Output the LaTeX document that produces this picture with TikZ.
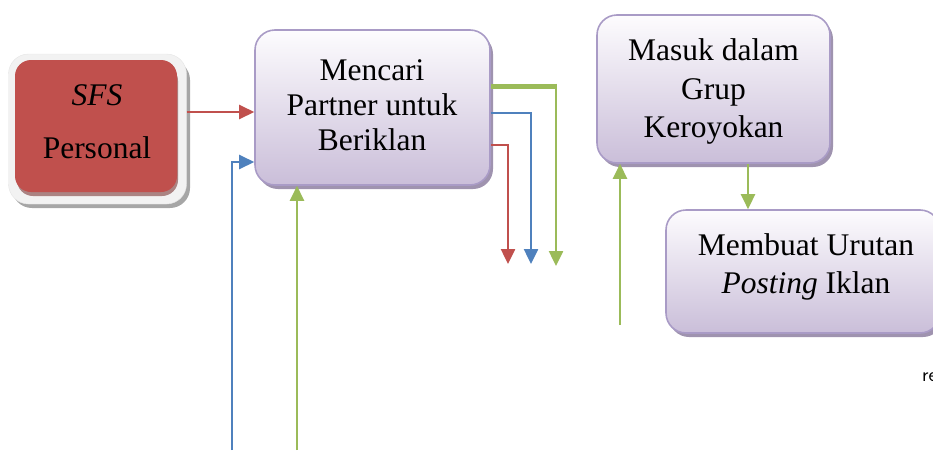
\documentclass[tikz,border=0pt]{standalone}
\usepackage{fontspec}
\setmainfont{Liberation Serif}
\usetikzlibrary{arrows.meta,calc}
\definecolor{sfsred}{HTML}{C0504D}
\definecolor{lavtop}{HTML}{FDFCFE}
\definecolor{lavbot}{HTML}{CABED9}
\definecolor{lavline}{HTML}{A99BC6}
\definecolor{lavshadow}{HTML}{9F93AF}
\definecolor{cblue}{HTML}{4F81BD}
\definecolor{cgreen}{HTML}{9BBB59}
\tikzset{
  procbox/.style={rounded corners=20pt, draw=lavline, line width=1.6pt,
    top color=lavtop, bottom color=lavbot, inner sep=0pt},
  boxtext/.style={align=center, inner sep=0pt, font=\fontsize{31.5}{37}\selectfont},
  shadowbox/.style={rounded corners=20pt, fill=lavshadow, draw=none},
  conn/.style={line width=2.5pt, -{Triangle[length=15pt,width=14pt]}},
}
\begin{document}
\begin{tikzpicture}[x=1pt,y=-1pt]
\useasboundingbox (0,0) rectangle (933,450);
\clip (0,0) rectangle (933,450);
% SFS
\fill[rounded corners=20pt, fill=black!35] (12,60) rectangle (190,208);
\node[rounded corners=20pt, fill=black!5, draw=black!10, minimum width=178pt, minimum height=150pt, inner sep=0pt] (sfsframe) at (97.5,129) {};
\fill[rounded corners=16pt, fill=sfsred!60!black!60] (17,65) rectangle (178,196);
\node[rounded corners=16pt, fill=sfsred, minimum width=162pt, minimum height=132pt, inner sep=0pt] (sfs) at (96,126) {};
\node[boxtext, font=\fontsize{31.5}{37}\selectfont\itshape] (sfst1) at (97,95) {SFS};
\node[boxtext] (sfst2) at (97,148) {Personal};
% shadows
\fill[shadowbox] (258,34) rectangle (493,189);
\fill[shadowbox] (600,19) rectangle (833,167);
\fill[shadowbox] (669,214) rectangle (943,337);
% boxes
\node[procbox, minimum width=235pt, minimum height=155pt] (mencari) at (372.5,107.5) {};
\node[boxtext, font=\fontsize{31.5}{35}\selectfont] (mencarit) at (372,105) {Mencari\\Partner untuk\\Beriklan};
\node[procbox, minimum width=233pt, minimum height=148pt] (masuk) at (713.5,89) {};
\node[boxtext, font=\fontsize{31.5}{38.5}\selectfont] (masukt) at (713.5,91.5) {Masuk dalam\\Grup\\Keroyokan};
\node[procbox, minimum width=274pt, minimum height=123pt] (membuat) at (803,271.5) {};
\node[boxtext, font=\fontsize{31.5}{38}\selectfont] (membuatt) at (806,267)
  {Membuat Urutan\\\textit{Posting} Iklan};
% partial label at right edge
\node[font=\fontsize{20}{24}\selectfont\sffamily, anchor=west, inner sep=0pt] (cut) at (922,377) {re};
% connectors
\draw[conn, sfsred] (sfsframe.east |- 0,112) -- (mencari.west |- 0,112);
\coordinate (bstart) at (232,450);
\draw[conn, cblue] (bstart) |- (mencari.west |- 0,162);
\coordinate (gstart) at (297,450);
\draw[conn, cgreen] (gstart) -- (mencari.south -| gstart);
% outgoing
\coordinate (gend) at (556,266);
\coordinate (bend) at (531,264);
\coordinate (rend) at (508,264);
\draw[cgreen, line width=5pt] (mencari.east |- 0,86) -- (gend |- 0,86);
\draw[conn, cgreen] ($(gend |- 0,86)+(0,-2.5)$) -- (gend);
\draw[conn, cblue] (mencari.east |- 0,113) -| (bend);
\draw[conn, sfsred] (mencari.east |- 0,145) -| (rend);
% right side
\draw[conn, cgreen] (masuk.south -| 748,0) -- (membuat.north -| 748,0);
\coordinate (g2start) at (620,325);
\draw[conn, cgreen] (g2start) -- (masuk.south -| g2start);
\end{tikzpicture}
\end{document}
